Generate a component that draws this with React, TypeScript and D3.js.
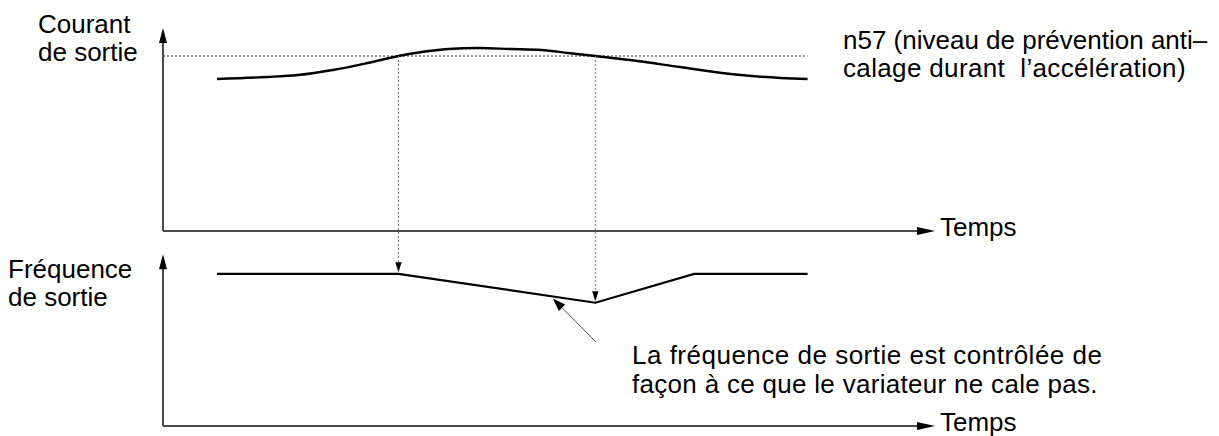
import React from "react";
import * as d3 from "d3";

// ---- data ----
const timeCurrent = [7, 13.5, 17.5, 22, 26.5, 30.5, 33.5, 37, 41, 45, 49, 52.5, 56, 60.5, 67, 73.5, 80, 83.5];
const currentValues = [76, 77, 78, 80.5, 84, 87.5, 89.5, 91, 91.5, 91, 90.5, 89, 87.5, 85.5, 82, 78.5, 76.5, 76];
const stallLevel = 87.5; // n57 level
const stallLevelEnd = 83.5;
const crossingTimes = [30.5, 56];

const timeFreq = [7, 30.5, 56, 68.8, 83.5];
const freqValues = [89.5, 89.5, 72.5, 89.5, 89.5];
const pointerTime = 50.5;

const labelsCurrent = ["Courant", "de sortie"];
const labelsFreq = ["Fréquence", "de sortie"];
const labelTime = "Temps";
const levelNote = ["n57 (niveau de prévention anti–", "calage durant  l’accélération)"];
const freqNote = ["La fréquence de sortie est contrôlée de", "façon à ce que le variateur ne cale pas."];

const W = 1219;
const H = 436;
const FONT = "'Liberation Sans', Arial, Helvetica, sans-serif";
const FS = 26;

export default function App() {
  const x = d3.scaleLinear().domain([0, 100]).range([163, 935]);
  const yCur = d3.scaleLinear().domain([0, 100]).range([231, 31]);
  const yFreq = d3.scaleLinear().domain([0, 100]).range([426, 256]);

  const curLine = d3
    .line<number>()
    .x((d, i) => x(timeCurrent[i]))
    .y((d) => yCur(d))
    .curve(d3.curveCatmullRom.alpha(0.5));

  const freqLine = d3
    .line<number>()
    .x((d, i) => x(timeFreq[i]))
    .y((d) => yFreq(d));

  const freqAt = (t: number) => {
    const interp = d3.scaleLinear().domain(timeFreq).range(freqValues);
    return interp(t);
  };

  const axisColor = "#4a4a4a";

  const headDown = (cx: number, tipY: number, len: number, hw: number) =>
    `${cx},${tipY} ${cx - hw},${tipY - len} ${cx + hw},${tipY - len}`;
  const headUp = (cx: number, tipY: number, len: number, hw: number) =>
    `${cx},${tipY} ${cx - hw},${tipY + len} ${cx + hw},${tipY + len}`;
  const headRight = (tipX: number, cy: number, len: number, hw: number) =>
    `${tipX},${cy} ${tipX - len},${cy - hw} ${tipX - len},${cy + hw}`;

  const x0 = x(0);
  const xEnd = x(100);
  const curTop = yCur(101.5);
  const freqTop = yFreq(101);

  // pointer
  const pTipX = x(pointerTime);
  const pTipY = yFreq(freqAt(pointerTime)) + 2;
  const pTailX = 596;
  const pTailY = 342;
  const ang = Math.atan2(pTipY - pTailY, pTipX - pTailX);
  const pl = 13;
  const ph = 4.5;
  const bx = pTipX - pl * Math.cos(ang);
  const by = pTipY - pl * Math.sin(ang);
  const pointerHead = `${pTipX},${pTipY} ${bx + ph * Math.sin(ang)},${by - ph * Math.cos(ang)} ${bx - ph * Math.sin(ang)},${by + ph * Math.cos(ang)}`;

  const textStyle = { fontFamily: FONT, fontSize: FS, fill: "#000" } as React.CSSProperties;

  return (
    <svg
      width={W}
      height={H}
      style={{ position: "absolute", left: 0, top: 0, background: "#fff" }}
    >
      {/* ---------- top panel: output current ---------- */}
      <line x1={x0} y1={yCur(0)} x2={x0} y2={curTop + 12} stroke={axisColor} strokeWidth={2} />
      <polygon points={headUp(x0, curTop, 15, 4)} fill="#000" />
      <line x1={x0} y1={yCur(0)} x2={xEnd - 14} y2={yCur(0)} stroke={axisColor} strokeWidth={2} />
      <polygon points={headRight(xEnd, yCur(0), 18, 4)} fill="#000" />

      <line
        x1={x0}
        y1={yCur(stallLevel)}
        x2={x(stallLevelEnd)}
        y2={yCur(stallLevel)}
        stroke="#333"
        strokeWidth={1}
        strokeDasharray="2,2"
      />

      <path d={curLine(currentValues) || ""} fill="none" stroke="#000" strokeWidth={2.4} />

      {crossingTimes.map((t, i) => {
        const tipY = yFreq(freqAt(t)) - 1.5;
        return (
          <g key={i}>
            <line
              x1={x(t)}
              y1={yCur(stallLevel)}
              x2={x(t)}
              y2={tipY - 8}
              stroke="#777"
              strokeWidth={1}
              strokeDasharray="2,2"
            />
            <polygon points={headDown(x(t), tipY, 10, 3.2)} fill="#000" />
          </g>
        );
      })}

      {/* ---------- bottom panel: output frequency ---------- */}
      <line x1={x0} y1={yFreq(0)} x2={x0} y2={freqTop + 12} stroke={axisColor} strokeWidth={2} />
      <polygon points={headUp(x0, freqTop, 15, 4)} fill="#000" />
      <line x1={x0} y1={yFreq(0)} x2={xEnd - 14} y2={yFreq(0)} stroke={axisColor} strokeWidth={2} />
      <polygon points={headRight(xEnd, yFreq(0), 18, 4)} fill="#000" />

      <path d={freqLine(freqValues) || ""} fill="none" stroke="#000" strokeWidth={2.2} strokeLinejoin="miter" />

      <line x1={pTailX} y1={pTailY} x2={bx} y2={by} stroke="#555" strokeWidth={1} />
      <polygon points={pointerHead} fill="#000" />

      {/* ---------- texts ---------- */}
      <text x={38} y={33} style={textStyle}>{labelsCurrent[0]}</text>
      <text x={38} y={61} style={textStyle}>{labelsCurrent[1]}</text>
      <text x={8} y={278} style={textStyle}>{labelsFreq[0]}</text>
      <text x={8} y={306} style={textStyle}>{labelsFreq[1]}</text>
      <text x={xEnd + 5} y={yCur(0) + 5} style={textStyle}>{labelTime}</text>
      <text x={xEnd + 5} y={yFreq(0) + 5} style={textStyle}>{labelTime}</text>
      <text x={843} y={49} style={textStyle}>{levelNote[0]}</text>
      <text x={843} y={77} style={{ ...textStyle, whiteSpace: "pre", letterSpacing: 0.35 }}>{levelNote[1]}</text>
      <text x={632} y={364} style={{ ...textStyle, letterSpacing: 0.5 }}>{freqNote[0]}</text>
      <text x={632} y={393} style={{ ...textStyle, letterSpacing: 0.3 }}>{freqNote[1]}</text>
    </svg>
  );
}
